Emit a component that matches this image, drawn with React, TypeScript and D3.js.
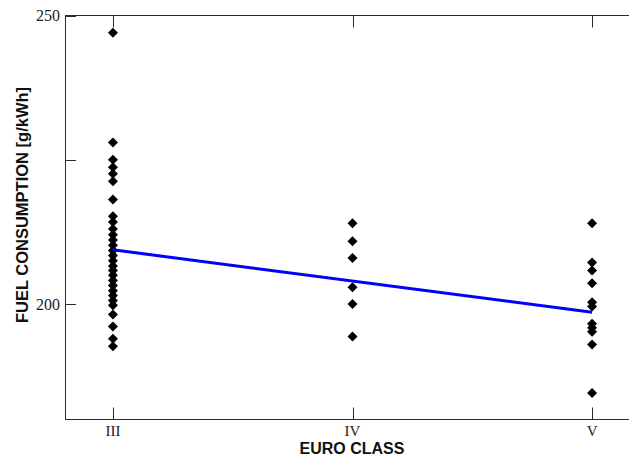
import { useEffect, useRef } from "react";
import * as d3 from "d3";

// euro class categories at x = 3, 4, 5
const categories = ["III", "IV", "V"];
const categoryPos = [3, 4, 5];

// fuel consumption [g/kWh] per euro class
const classIII = [
  247.0, 228.0, 225.0, 223.7, 222.6, 221.3, 218.1, 215.2, 214.2, 213.0, 212.0,
  211.1, 210.2, 209.3, 208.4, 207.5, 206.6, 205.8, 205.0, 204.1, 203.2, 202.3,
  201.5, 200.6, 199.8, 198.2, 196.1, 194.0, 192.7,
];
const classIV = [214.0, 210.9, 208.0, 202.9, 200.0, 194.4];
const classV = [214.0, 207.2, 205.8, 203.6, 200.3, 199.6, 196.6, 195.9, 195.2, 193.0, 184.6];

// linear fit, value at class III and at class V
const fitPos = [3, 5];
const fitValues = [209.4, 198.6];

const yTicks = [200, 225, 250];
const yTickLabels = ["200", "", "250"];

export default function App() {
  const svgRef = useRef<SVGSVGElement>(null);

  useEffect(() => {
    if (!svgRef.current) return;
    const W = 629, H = 457;
    const left = 65, top = 15.5, right = 640, bottom = 419.5;

    const svg = d3.select(svgRef.current);
    svg.selectAll("*").remove();

    const x = d3.scaleLinear().domain([2.8, 5.2]).range([left, right]);
    const y = d3.scaleLinear().domain([180, 250]).range([bottom, top]);

    const frame = "#2a2a2a";
    // box
    svg.append("rect")
      .attr("x", left + 0.5).attr("y", top)
      .attr("width", right - left).attr("height", bottom - top)
      .attr("fill", "none").attr("stroke", frame).attr("stroke-width", 1);

    // x ticks (bottom + top, inward)
    const tk = 12;
    categoryPos.forEach((c, i) => {
      const px = Math.round(x(c)) + 0.5;
      svg.append("line").attr("x1", px).attr("x2", px)
        .attr("y1", bottom).attr("y2", bottom - tk).attr("stroke", frame);
      svg.append("line").attr("x1", px).attr("x2", px)
        .attr("y1", top).attr("y2", top + tk).attr("stroke", frame);
      svg.append("text")
        .attr("x", x(c)).attr("y", 436)
        .attr("text-anchor", "middle")
        .attr("font-family", "Liberation Serif, serif")
        .attr("font-size", 15)
        .attr("fill", "#222")
        .text(categories[i]);
    });

    // y ticks (left + right, inward)
    yTicks.forEach((t, i) => {
      const py = Math.round(y(t)) + 0.5;
      svg.append("line").attr("x1", left).attr("x2", left + 11)
        .attr("y1", py).attr("y2", py).attr("stroke", frame);
      svg.append("line").attr("x1", right).attr("x2", right - 11)
        .attr("y1", py).attr("y2", py).attr("stroke", frame);
      svg.append("text")
        .attr("x", 60).attr("y", y(t))
        .attr("dy", "0.35em")
        .attr("text-anchor", "end")
        .attr("font-family", "Liberation Serif, serif")
        .attr("font-size", 16)
        .attr("fill", "#222")
        .text(yTickLabels[i]);
    });

    // points
    const pts = [
      ...classIII.map(v => ({ c: 3, v })),
      ...classIV.map(v => ({ c: 4, v })),
      ...classV.map(v => ({ c: 5, v })),
    ];
    const diamond = d3.symbol(d3.symbolSquare, 50)();
    svg.append("g").selectAll("path")
      .data(pts)
      .enter()
      .append("path")
      .attr("d", diamond)
      .attr("transform", d => `translate(${x(d.c)},${y(d.v)}) rotate(45)`)
      .attr("fill", "#000");

    // fit line
    const line = d3.line<number>()
      .x((_, i) => x(fitPos[i]))
      .y(d => y(d));
    svg.append("path")
      .attr("d", line(fitValues))
      .attr("fill", "none")
      .attr("stroke", "#0000ff")
      .attr("stroke-width", 3);

    // axis titles
    svg.append("text")
      .attr("x", 352).attr("y", 454)
      .attr("text-anchor", "middle")
      .attr("font-family", "Liberation Sans, Arial, sans-serif")
      .attr("font-weight", "bold")
      .attr("font-size", 16)
      .attr("fill", "#111")
      .text("EURO CLASS");

    svg.append("text")
      .attr("transform", `translate(28,205) rotate(-90)`)
      .attr("text-anchor", "middle")
      .attr("font-family", "Liberation Sans, Arial, sans-serif")
      .attr("font-weight", "bold")
      .attr("font-size", 16.5)
      .attr("fill", "#111")
      .text("FUEL CONSUMPTION [g/kWh]");

    svg.attr("width", W).attr("height", H);
  }, []);

  return (
    <div>
      <svg ref={svgRef} width={629} height={457}
        style={{ position: "absolute", left: 0, top: 0, background: "#fff" }} />
    </div>
  );
}
